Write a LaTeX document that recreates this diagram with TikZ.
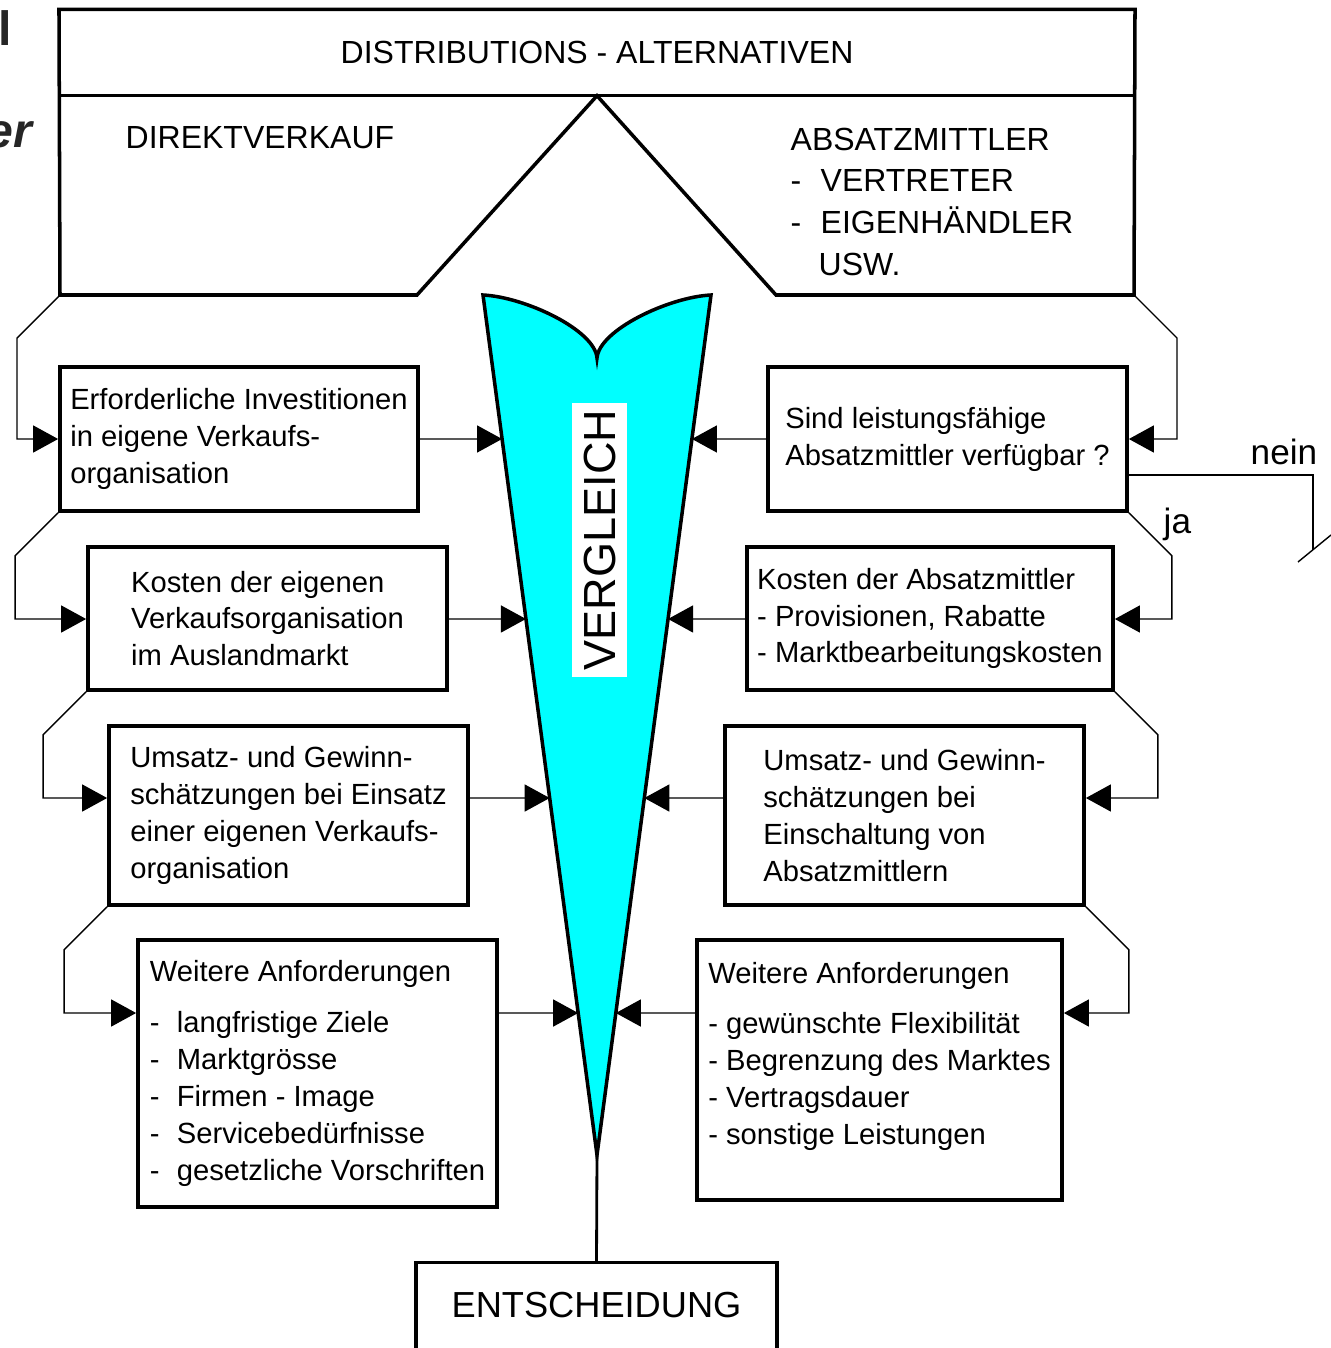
\documentclass[tikz,border=0pt]{standalone}
\usepackage{fontspec}
\setmainfont{Liberation Sans}
\usepackage{xcolor}
\usetikzlibrary{arrows.meta, calc}

\definecolor{vglcyan}{RGB}{0,255,255}
\newcommand{\dashitem}[1]{\makebox[0.27cm][l]{-}#1}
\newcommand{\capitem}[1]{\makebox[0.30cm][l]{-}#1}

\begin{document}
\begin{tikzpicture}[x=0.01cm, y=-0.01cm,
    box/.style={draw, line width=1pt, align=left, inner sep=0pt, font=\fontsize{8.3}{10.5}\selectfont},
    big/.style={font=\fontsize{9.1}{11.9}\selectfont},
    fb/.style={line width=0.4pt},
    arr/.style={line width=0.4pt, -{Triangle[length=0.25cm, width=0.27cm]}}]
    \useasboundingbox (0,0) rectangle (1331,1348);

    % pieces of the slide that are cut off at the left border
    \begin{scope}
    \clip (0,0) rectangle (1331,1348);
    \node[anchor=base east, inner sep=0pt, black!85, font=\bfseries\fontsize{13.7}{14}\selectfont] (frag1) at (13,45) {l};
    \node[anchor=base east, inner sep=0pt, black!85, font=\bfseries\itshape\fontsize{13.7}{14}\selectfont] (frag2) at (33,147) {er};
    \end{scope}

    % top frame
    \node (title) [minimum width=10.74cm, minimum height=0.85cm, big] at (597,52.5) {DISTRIBUTIONS - ALTERNATIVEN};
    \coordinate (dl) at (60,295);
    \coordinate (nl) at (417,295);
    \coordinate (nr) at (776,295);
    \coordinate (dr) at (1134,295);
    \draw[line width=1pt] (title.north west) -- (title.north east) -- (dr) -- (nr) -- (title.south) -- (nl) -- (dl) -- cycle;
    \draw[line width=1pt] (title.south west) -- (title.south east);
    \node (direkt) [big, anchor=west, inner sep=0pt] at (125,138) {DIREKTVERKAUF};
    \node (absatz) [big, anchor=north west, align=left, inner sep=0pt] at (790,127) {ABSATZMITTLER\\ \capitem{VERTRETER}\\ \capitem{EIGENHÄNDLER}\\ \hspace*{0.28cm}USW.};

    % comparison wedge
    \coordinate (vl) at (483,295);
    \coordinate (vr) at (711,295);
    \coordinate (vm) at (597,358);
    \coordinate (tip) at (597,1155);
    \draw[line width=1pt, fill=vglcyan] (vl) .. controls (525,297) and (595,330) .. (vm) .. controls (599,330) and (669,297) .. (vr) -- (tip) -- cycle;
    \node (vgl) [fill=white, rotate=90, minimum width=2.74cm, minimum height=0.55cm, inner sep=0pt, font=\fontsize{12.8}{14}\selectfont] at (599.5,540) {VERGLEICH};

    % left column
    \node (inv) [box, minimum width=3.58cm, minimum height=1.44cm] at (239,439) {Erforderliche Investitionen\\in eigene Verkaufs-\\organisation};
    \node (kosteneig) [box, minimum width=3.59cm, minimum height=1.43cm] at (267.5,618.5) {Kosten der eigenen\\Verkaufsorganisation\\im Auslandmarkt};
    \node (umsatzeig) [box, minimum width=3.59cm, minimum height=1.79cm] at (288.5,815.5) {Umsatz- und Gewinn-\\schätzungen bei Einsatz\\einer eigenen Verkaufs-\\organisation};
    \node (anfeig) [box, minimum width=3.59cm, minimum height=2.67cm] at (317.5,1073.5) {Weitere Anforderungen\\[4pt]\dashitem{langfristige Ziele}\\ \dashitem{Marktgrösse}\\ \dashitem{Firmen - Image}\\ \dashitem{Servicebedürfnisse}\\ \dashitem{gesetzliche Vorschriften}};

    % right column
    \node (verf) [box, minimum width=3.59cm, minimum height=1.44cm] at (947.5,439) {Sind leistungsfähige\\Absatzmittler verfügbar ?};
    \node (kostenabs) [box, minimum width=3.66cm, minimum height=1.43cm] at (930,618.5) {Kosten der Absatzmittler\\- Provisionen, Rabatte\\- Marktbearbeitungskosten};
    \node (umsatzabs) [box, minimum width=3.59cm, minimum height=1.79cm] at (904.5,815.5) {Umsatz- und Gewinn-\\schätzungen bei\\Einschaltung von\\Absatzmittlern};
    \node (anfabs) [box, minimum width=3.65cm, minimum height=2.60cm] at (879.5,1070) {Weitere Anforderungen\\[4pt]- gewünschte Flexibilität\\- Begrenzung des Marktes\\- Vertragsdauer\\- sonstige Leistungen\\[-1pt]\mbox{}};

    % decision
    \node (ent) [minimum width=3.59cm, minimum height=0.85cm, inner sep=0pt, font=\fontsize{10.3}{12}\selectfont] at (596.5,1305.5) {ENTSCHEIDUNG};
    \draw[line width=1pt] (ent.south west) |- (ent.north east) -- (ent.south east);
    \draw[line width=0.8pt] (tip) -- (ent.north);

    % rows of the arrows
    \coordinate (rowA) at (0,439);
    \coordinate (rowB) at (0,619);
    \coordinate (rowC) at (0,798);
    \coordinate (rowD) at (0,1013);
    \coordinate (rowN) at (0,475);

    % into the wedge
    \draw[arr] (inv.east |- rowA) -- ($(vl)!0.1674!(tip)$);
    \draw[arr] (kosteneig.east |- rowB) -- ($(vl)!0.3767!(tip)$);
    \draw[arr] (umsatzeig.east |- rowC) -- ($(vl)!0.5849!(tip)$);
    \draw[arr] (anfeig.east |- rowD) -- ($(vl)!0.8349!(tip)$);
    \draw[arr] (verf.west |- rowA) -- ($(vr)!0.1674!(tip)$);
    \draw[arr] (kostenabs.west |- rowB) -- ($(vr)!0.3767!(tip)$);
    \draw[arr] (umsatzabs.west |- rowC) -- ($(vr)!0.5849!(tip)$);
    \draw[arr] (anfabs.west |- rowD) -- ($(vr)!0.8349!(tip)$);

    % from step to step
    \draw[arr] (dl) -- ++(-43,43) |- (inv.west |- rowA);
    \draw[arr] (inv.south west) -- ++(-43,43) |- (kosteneig.west |- rowB);
    \draw[arr] (kosteneig.south west) -- ++(-43,43) |- (umsatzeig.west |- rowC);
    \draw[arr] (umsatzeig.south west) -- ++(-43,43) |- (anfeig.west |- rowD);
    \draw[arr] (dr) -- ++(43,43) |- (verf.east |- rowA);
    \draw[arr] (verf.south east) -- ++(43,43) |- (kostenabs.east |- rowB);
    \draw[arr] (kostenabs.south east) -- ++(43,43) |- (umsatzabs.east |- rowC);
    \draw[arr] (umsatzabs.south east) -- ++(43,43) |- (anfabs.east |- rowD);

    % yes / no
    \coordinate (neinend) at (1313,550);
    \coordinate (cutA) at (1298,562);
    \coordinate (cutB) at (1331,535);
    \draw[fb] (verf.east |- rowN) -| (neinend);
    \draw[fb] (cutA) -- (cutB);
    \node (nein) [anchor=base west, inner sep=0pt, font=\fontsize{10}{12}\selectfont] at (1250,464) {nein};
    \node (ja) [anchor=base west, inner sep=0pt, font=\fontsize{10}{12}\selectfont] at (1163,533) {ja};
\end{tikzpicture}
\end{document}
